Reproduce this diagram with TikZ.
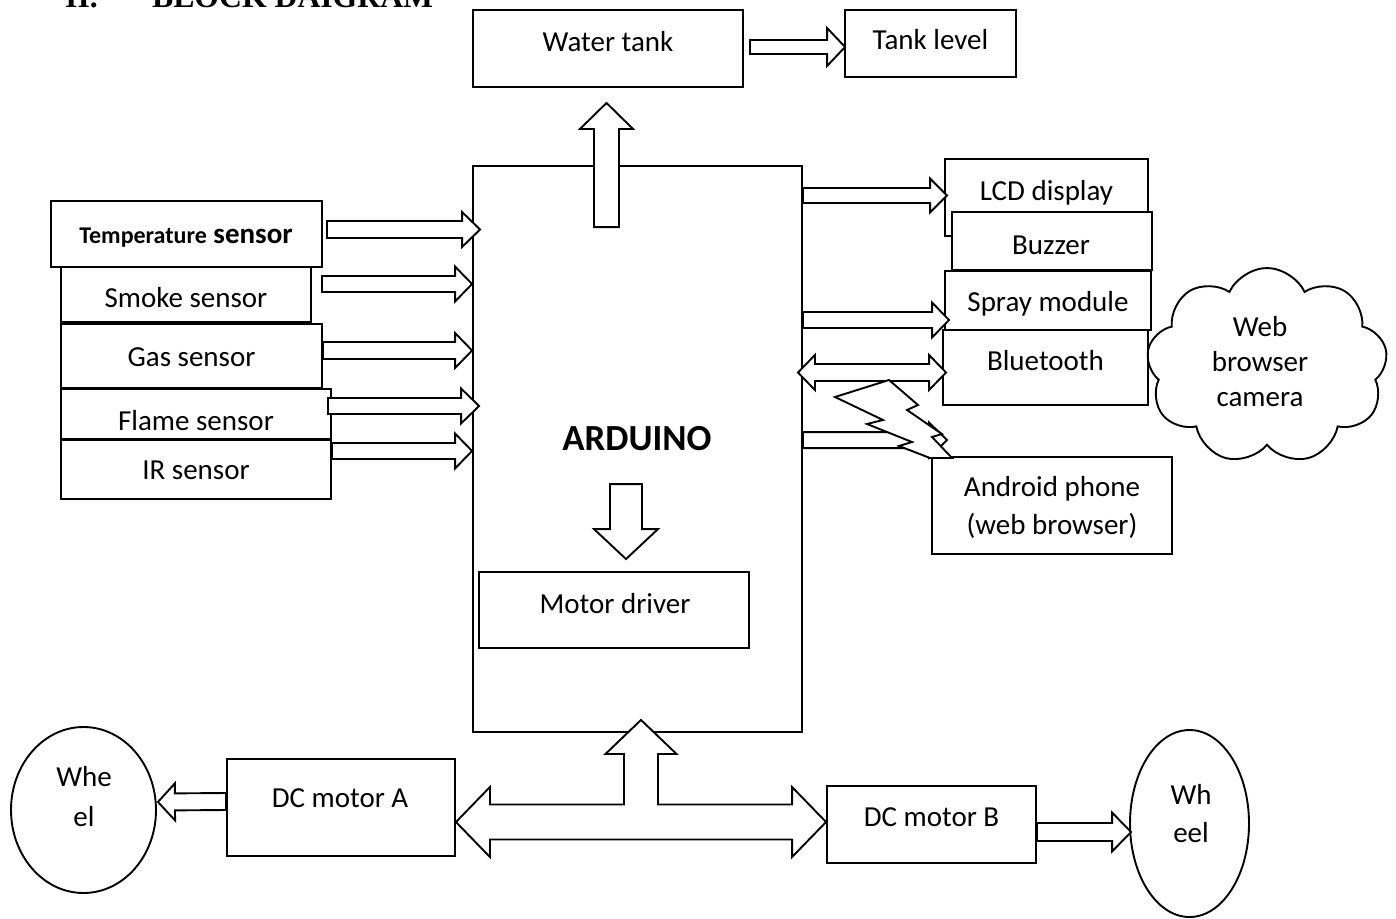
\documentclass[tikz,border=0pt]{standalone}
\usepackage{fontspec}
\setmainfont{Carlito}
\newfontfamily\headfont{Liberation Serif}
\usetikzlibrary{calc,shapes.geometric,shapes.symbols}
% single block arrow: start, tip, shaft half width, head half width, head length
\newcommand{\blkarrow}[5]{%
  \coordinate (tmpH) at ($(#2)!#5!(#1)$);
  \draw[blk] ($(#1)!#3!90:(#2)$) -- ($(tmpH)!#3!-90:(#1)$) -- ($(tmpH)!#4!-90:(#1)$) -- (#2)
    -- ($(tmpH)!#4!90:(#1)$) -- ($(tmpH)!#3!90:(#1)$) -- ($(#1)!#3!-90:(#2)$) -- cycle;}
% double block arrow: tip, tip, shaft half width, head half width, head length
\newcommand{\dblkarrow}[5]{%
  \coordinate (tmpA) at ($(#1)!#5!(#2)$);
  \coordinate (tmpB) at ($(#2)!#5!(#1)$);
  \draw[blk] (#1) -- ($(tmpA)!#4!90:(#2)$) -- ($(tmpA)!#3!90:(#2)$) -- ($(tmpB)!#3!-90:(#1)$)
    -- ($(tmpB)!#4!-90:(#1)$) -- (#2) -- ($(tmpB)!#4!90:(#1)$) -- ($(tmpB)!#3!90:(#1)$)
    -- ($(tmpA)!#3!-90:(#2)$) -- ($(tmpA)!#4!-90:(#2)$) -- cycle;}
\begin{document}
\begin{tikzpicture}[x=1pt,y=-1pt,
  box/.style={draw, line width=1.9pt, fill=white, inner sep=0pt, rectangle},
  oval/.style={draw, line width=1.9pt, fill=white, inner sep=0pt, ellipse},
  blk/.style={draw, line width=1.9pt, fill=white, line join=miter},
  txt/.style={font=\fontsize{29}{36}\selectfont, inner sep=0pt, text height=20pt, text depth=0pt},
  mtxt/.style={font=\fontsize{29}{36}\selectfont, inner sep=0pt, align=center},
  head/.style={font=\headfont\bfseries\fontsize{31.7}{36}\selectfont, inner sep=0pt, anchor=base west},
]
\useasboundingbox (0,0) rectangle (1396,918);
\clip (0,0) rectangle (1396,918);
\fill[white] (0,0) rectangle (1396,918);

% heading (cut off at the top)
\node[head] (h1) at (65,7) {II.};
\node[head] (h2) at (152,7) {BLOCK DAIGRAM};

% top
\node[box, minimum width=270pt, minimum height=77pt] (wt) at (608,48.5) {};
\node[txt] (wtt) at ($(wt.center)+(0,-7.5)$) {Water tank};
\node[box, minimum width=171pt, minimum height=67pt] (tl) at (930.5,43.5) {};
\node[txt] (tlt) at ($(tl.center)+(0,-4.5)$) {Tank level};

% arduino
\node[box, minimum width=329pt, minimum height=566pt] (ard) at (637.5,449) {};
\node[inner sep=0pt, font=\bfseries\fontsize{36.8}{40}\selectfont, text height=24pt, text depth=0pt] (ardt) at (637,438) {ARDUINO};
\node[box, minimum width=270pt, minimum height=76pt] (md) at (614,610) {};
\node[txt] (mdt) at ($(md.center)+(1,-7)$) {Motor driver};

% sensors
\node[box, minimum width=271pt, minimum height=66pt] (temp) at (186.5,234) {};
\node[txt, font=\bfseries\fontsize{29}{36}\selectfont] (tempt) at (186,233) {{\fontsize{24}{29}\selectfont Temperature} sensor};
\node[box, minimum width=250pt, minimum height=55pt] (smoke) at (186,294.5) {};
\node[txt] (smoket) at ($(smoke.center)+(0,2.5)$) {Smoke sensor};
\node[box, minimum width=261pt, minimum height=64pt] (gas) at (191.5,356) {};
\node[txt] (gast) at (gas.center) {Gas sensor};
\node[box, minimum width=270pt, minimum height=50pt] (flame) at (196,414) {};
\node[txt] (flamet) at ($(flame.center)+(0,6)$) {Flame sensor};
\node[box, minimum width=270pt, minimum height=59pt] (ir) at (196,469.5) {};
\node[txt] (irt) at ($(ir.center)+(0,-0.5)$) {IR sensor};

% outputs
\node[box, minimum width=203pt, minimum height=77pt] (lcd) at (1046.5,197.5) {};
\node[txt] (lcdt) at ($(lcd.center)+(0,-7.5)$) {LCD display};
\node[box, minimum width=200pt, minimum height=58pt] (buz) at (1052,241) {};
\node[txt] (buzt) at ($(buz.center)+(-1,3)$) {Buzzer};
\node[box, minimum width=206pt, minimum height=59pt] (spray) at (1048,300.5) {};
\node[txt] (sprayt) at ($(spray.center)+(0,0.5)$) {Spray module};
\node[box, minimum width=205pt, minimum height=75pt] (bt) at (1045.5,367.5) {};
\node[txt] (btt) at ($(bt.center)+(0,-7.5)$) {Bluetooth};
\node[box, minimum width=240pt, minimum height=97pt] (android) at (1052,505.5) {};
\node[mtxt, font=\fontsize{29}{38}\selectfont] (androidt) at ($(android.center)+(0,1.5)$) {Android phone\\(web browser)};

% cloud
\node[cloud, draw, line width=1.9pt, cloud puffs=9, cloud puff arc=130, cloud ignores aspect, minimum width=241pt, minimum height=196pt, inner sep=0pt] (cl) at (1267,366) {};
\node[mtxt, font=\fontsize{29}{35}\selectfont] (clt) at ($(cl.center)+(-7,-4)$) {Web\\browser\\camera};

% motors and wheels
\node[box, minimum width=228pt, minimum height=97pt] (mA) at (341,807.5) {};
\node[txt] (mAt) at ($(mA.center)+(-1,-10.5)$) {DC motor A};
\node[box, minimum width=209pt, minimum height=77pt] (mB) at (931.5,824.5) {};
\node[txt] (mBt) at ($(mB.center)+(0,-8.5)$) {DC motor B};
\node[oval, minimum width=145pt, minimum height=166pt] (wl) at (83.5,810) {};
\node[mtxt, font=\fontsize{29}{40}\selectfont] (wlt) at ($(wl.center)+(0.5,-13)$) {Whe\\el};
\node[oval, minimum width=119pt, minimum height=187pt] (wr) at (1189.5,823.5) {};
\node[mtxt, font=\fontsize{29}{38}\selectfont] (wrt) at ($(wr.center)+(1.5,-9.5)$) {Wh\\eel};

% arrows: top
\coordinate (a0s) at ($(wt.east)+(6,-1.5)$);
\coordinate (a0e) at ($(tl.west)+(1,3.5)$);
\blkarrow{a0s}{a0e}{7pt}{19pt}{18pt}
\coordinate (a1s) at ($(ard.north)+(-31,62)$);
\coordinate (a1e) at ($(wt.south)+(-1.5,15)$);
\blkarrow{a1s}{a1e}{12.5pt}{26.5pt}{26pt}

% arrows: sensors
\coordinate (a2s) at ($(temp.east)+(4,-4.5)$);
\coordinate (a2e) at ($(ard.west |- a2s)+(8,0)$);
\blkarrow{a2s}{a2e}{8.5pt}{17.5pt}{18pt}
\coordinate (a3s) at ($(smoke.east)+(10,-10.5)$);
\coordinate (a3e) at (ard.west |- a3s);
\blkarrow{a3s}{a3e}{8pt}{17.5pt}{17pt}
\coordinate (a4s) at ($(gas.east)+(0,-5.5)$);
\coordinate (a4e) at (ard.west |- a4s);
\blkarrow{a4s}{a4e}{8.5pt}{17.5pt}{17pt}
\coordinate (a5s) at ($(flame.east)+(-4,-8)$);
\coordinate (a5e) at ($(ard.west |- a5s)+(7,0)$);
\blkarrow{a5s}{a5e}{8pt}{17.5pt}{18pt}
\coordinate (a6s) at ($(ir.east)+(0,-18.5)$);
\coordinate (a6e) at (ard.west |- a6s);
\blkarrow{a6s}{a6e}{8pt}{17.5pt}{17pt}

% arrows: outputs
\coordinate (a7s) at ($(ard.east |- lcd.west)+(0,-2)$);
\coordinate (a7e) at ($(lcd.west)+(3,-2)$);
\blkarrow{a7s}{a7e}{7.5pt}{17pt}{17pt}
\coordinate (a8s) at ($(ard.east |- spray.west)+(0,19.5)$);
\coordinate (a8e) at ($(spray.west)+(5,19.5)$);
\blkarrow{a8s}{a8e}{8pt}{17.5pt}{17pt}
\coordinate (a9s) at ($(ard.east |- bt.west)+(-5,5)$);
\coordinate (a9e) at ($(bt.west)+(4,5)$);
\dblkarrow{a9s}{a9e}{8.5pt}{17.5pt}{17pt}
\coordinate (a10s) at ($(ard.east |- android.north)+(0,-16)$);
\coordinate (a10e) at ($(android.north west)+(16,-16)$);
\blkarrow{a10s}{a10e}{8pt}{17.5pt}{18pt}

% lightning bolt
\draw[blk] (889,380) -- (918,405) -- (907,410) -- (942,434) -- (932,437) -- (952,458)
  -- (930,458) -- (899,446) -- (912,442) -- (867,424) -- (883,420) -- (835,397) -- cycle;

% arrow to motor driver
\coordinate (a11s) at ($(md.north)+(12,-87)$);
\coordinate (a11e) at ($(md.north)+(12,-12)$);
\blkarrow{a11s}{a11e}{16pt}{32pt}{30pt}

% arrows to wheels
\coordinate (a12s) at ($(mA.west)+(0,-6)$);
\coordinate (a12e) at ($(wl.east)+(1,-8)$);
\blkarrow{a12s}{a12e}{8.5pt}{18.5pt}{17pt}
\coordinate (a13s) at ($(mB.east)+(0,7.5)$);
\coordinate (a13e) at ($(wr.west)+(2,8.5)$);
\blkarrow{a13s}{a13e}{9pt}{19.5pt}{19pt}

% bus between motors and arduino
\coordinate (busL) at ($(mA.east)+(0,14.5)$);
\coordinate (busR) at ($(mB.west)+(0,-2.5)$);
\coordinate (busU) at ($(ard.south)+(3.5,-13)$);
\coordinate (busM) at (busU |- busL);
\draw[blk] (busL) -- ($(busL)+(34,-35)$) -- ($(busL)+(34,-17.5)$) -- ($(busM)+(-17,-17.5)$)
  -- ($(busU)+(-17,34)$) -- ($(busU)+(-35.5,34)$) -- (busU) -- ($(busU)+(35.5,34)$)
  -- ($(busU)+(17,34)$) -- ($(busM)+(17,-17.5)$) -- ($(busR)+(-34,-17.5)$)
  -- ($(busR)+(-34,-35)$) -- (busR) -- ($(busR)+(-34,35)$) -- ($(busR)+(-34,17.5)$)
  -- ($(busL)+(34,17.5)$) -- ($(busL)+(34,35)$) -- cycle;
\end{tikzpicture}
\end{document}
